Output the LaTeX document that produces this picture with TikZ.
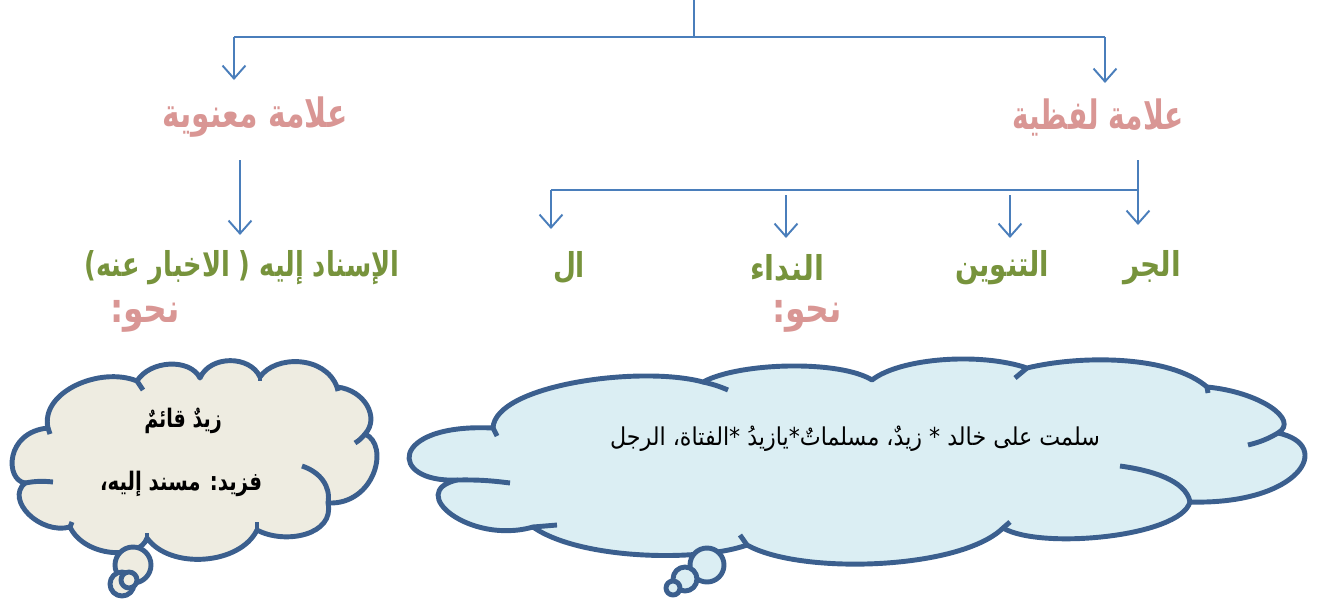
\documentclass[tikz,border=0pt]{standalone}
\usepackage{fontspec}
\usetikzlibrary{arrows.meta}
\TeXXeTstate=1
\newfontfamily\arabicfont[Script=Arabic]{DejaVu Sans}
\definecolor{linkblue}{HTML}{4A7EBB}
\definecolor{pinklab}{HTML}{D99694}
\definecolor{greenlab}{HTML}{77933C}
\definecolor{cloudline}{HTML}{3B5F8E}
\definecolor{beige}{HTML}{EEECE1}
\definecolor{skyfill}{HTML}{DBEEF3}
\tikzset{
  link/.style={draw=linkblue,line width=1.1pt},
  arrowlink/.style={link,-{Straight Barb[length=2.6mm,width=4.6mm,line width=1.1pt]}},
  pinktext/.style={text=pinklab,font=\arabicfont\bfseries\fontsize{23}{27}\selectfont,inner sep=0pt},
  greentext/.style={text=greenlab,font=\arabicfont\bfseries\fontsize{19.5}{23}\selectfont,inner sep=0pt},
  cloudedge/.style={draw=cloudline,line width=2.8pt,line join=round},
  innerarc/.style={draw=cloudline,line width=2.8pt},
  cloudtext/.style={text=black,inner sep=0pt}
}
\begin{document}
\begin{tikzpicture}[x=0.02cm,y=-0.02cm]
\useasboundingbox (0,0) rectangle (1322,599);
% top structure
\coordinate (top) at (694,0);
\coordinate (topj) at (694,37);
\coordinate (barL) at (234,37);
\coordinate (barR) at (1105,37);
\coordinate (tipL) at (234,80);
\coordinate (tipR) at (1105,83);
\draw[link] (top) -- (topj);
\draw[link] (barL) -- (barR);
\draw[arrowlink] (barL) -- (tipL);
\draw[arrowlink] (barR) -- (tipR);
% level 1 labels
\node[pinktext] (maan) at (255,117) {\resizebox{3.7cm}{\height}{\beginR علامة معنوية\endR}};
\node[pinktext] (lafz) at (1098,117) {\resizebox{3.42cm}{\height}{\beginR علامة لفظية\endR}};
% left branch
\coordinate (mS) at (240,160);
\coordinate (mT) at (240,235);
\draw[arrowlink] (mS) -- (mT);
% right branch
\coordinate (lS) at (1138,160);
\coordinate (lT) at (1138,225);
\coordinate (b2L) at (551,190);
\coordinate (b2R) at (1138,190);
\draw[arrowlink] (lS) -- (lT);
\draw[link] (b2L) -- (b2R);
\coordinate (alT) at (551,229);
\draw[arrowlink] (b2L) -- (alT);
\coordinate (nidS) at (786,195);
\coordinate (nidT) at (786,238);
\draw[arrowlink] (nidS) -- (nidT);
\coordinate (tanS) at (1010,195);
\coordinate (tanT) at (1010,238);
\draw[arrowlink] (tanS) -- (tanT);
% level 2 labels
\node[greentext] (isnad) at (242,268) {\resizebox{6.3cm}{\height}{\beginR الإسناد إليه ( الاخبار عنه)\endR}};
\node[greentext] (al) at (569,268) {\resizebox{0.64cm}{\height}{\beginR ال\endR}};
\node[greentext] (nida) at (787,268) {\resizebox{1.48cm}{\height}{\beginR النداء\endR}};
\node[greentext] (tanwin) at (1002,268) {\resizebox{1.88cm}{\height}{\beginR التنوين\endR}};
\node[greentext] (jarr) at (1152,268) {\resizebox{1.16cm}{\height}{\beginR الجر\endR}};
\node[pinktext] (nahw1) at (145,316) {\resizebox{1.4cm}{\height}{\beginR نحو:\endR}};
\node[pinktext] (nahw2) at (807,316) {\resizebox{1.4cm}{\height}{\beginR نحو:\endR}};
% ---------- left cloud ----------
\draw[cloudedge,fill=beige] (25,483)
  .. controls (5,480) and (5,432) .. (48,428)
  .. controls (40,392) and (100,366) .. (137,381)
  .. controls (150,360) and (190,358) .. (200,378)
  .. controls (210,355) and (250,355) .. (260,377)
  .. controls (275,355) and (325,355) .. (337,387)
  .. controls (365,390) and (380,418) .. (365,434)
  .. controls (390,445) and (375,505) .. (328,503)
  .. controls (335,535) and (285,545) .. (257,530)
  .. controls (240,565) and (170,570) .. (147,538)
  .. controls (140,560) and (85,558) .. (70,527)
  .. controls (40,535) and (5,500) .. cycle;
\draw[innerarc] (25,483) to[bend left=8] (53,482);
\draw[innerarc] (48,428) -- (50,434);
\draw[innerarc] (137,381) -- (143,390);
\draw[innerarc] (260,377) -- (260,381);
\draw[innerarc] (337,387) -- (338,391);
\draw[innerarc] (365,434) to[bend left=10] (355,443);
\draw[innerarc] (328,503) .. controls (331,486) and (320,472) .. (302,466);
\draw[innerarc] (257,530) -- (257,522);
\draw[innerarc] (147,538) -- (147,533);
\draw[innerarc] (70,527) -- (72,522);
\draw[cloudedge,fill=beige] (133,565) circle (18);
\draw[cloudedge,fill=beige] (122,584) circle (12);
\draw[cloudedge,fill=beige] (129,580) circle (8);
% ---------- right cloud ----------
\draw[cloudedge,fill=skyfill] (457,480)
  .. controls (388,483) and (388,423) .. (493,428)
  .. controls (495,385) and (640,365) .. (703,382)
  .. controls (740,362) and (840,360) .. (872,380)
  .. controls (900,358) and (980,352) .. (1027,368)
  .. controls (1080,355) and (1170,355) .. (1207,387)
  .. controls (1260,392) and (1300,420) .. (1278,433)
  .. controls (1335,445) and (1300,505) .. (1190,502)
  .. controls (1180,537) and (1040,550) .. (1003,528)
  .. controls (960,570) and (800,575) .. (747,545)
  .. controls (700,562) and (580,560) .. (533,527)
  .. controls (470,545) and (405,492) .. cycle;
\draw[innerarc] (457,480) to[bend left=4] (510,483);
\draw[innerarc] (493,428) -- (497,436);
\draw[innerarc] (703,382) to[bend left=5] (728,390);
\draw[innerarc] (1027,368) -- (1015,378);
\draw[innerarc] (1207,387) -- (1208,393);
\draw[innerarc] (1278,433) to[bend left=8] (1248,445);
\draw[innerarc] (1190,502) .. controls (1186,480) and (1150,470) .. (1120,466);
\draw[innerarc] (1003,528) -- (1010,522);
\draw[innerarc] (747,545) -- (740,535);
\draw[innerarc] (533,527) -- (557,525);
\draw[cloudedge,fill=skyfill] (707,565) circle (17);
\draw[cloudedge,fill=skyfill] (685,579) circle (12);
\draw[cloudedge,fill=skyfill] (673,588) circle (7);
% cloud texts
\node[cloudtext,font=\arabicfont\bfseries\fontsize{14.5}{17}\selectfont] (t1) at (183,421) {\resizebox{1.55cm}{\height}{\beginR زيدٌ قائمٌ\endR}};
\node[cloudtext,font=\arabicfont\bfseries\fontsize{14.5}{17}\selectfont] (t2) at (181,484) {\resizebox{3.24cm}{\height}{\beginR فزيد: مسند إليه،\endR}};
\node[cloudtext,font=\arabicfont\fontsize{14}{17}\selectfont] (t3) at (855,439) {\resizebox{9.8cm}{\height}{\beginR سلمت على خالد * زيدٌ، مسلماتٌ*يازيدُ *الفتاة، الرجل\endR}};
\end{tikzpicture}
\end{document}
